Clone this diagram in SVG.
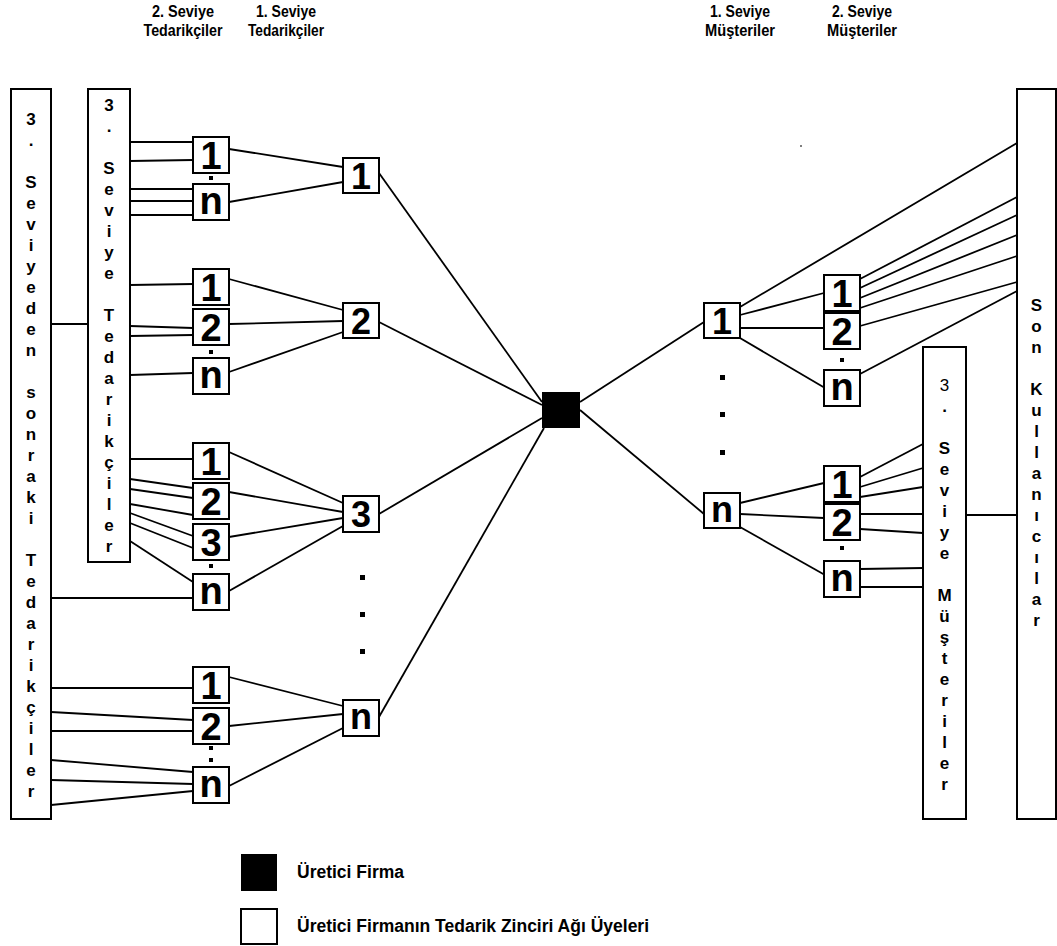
<svg xmlns="http://www.w3.org/2000/svg" width="1057" height="946" viewBox="0 0 1057 946">
<style>
.bx{fill:#fff;stroke:#000;stroke-width:2}
.dk{fill:#000}
.ln line{stroke:#000;stroke-width:1.8}
.hd{font-family:"Liberation Sans",Arial,sans-serif;font-weight:bold;font-size:16.5px;text-anchor:middle}
.vt{font-family:"Liberation Sans",Arial,sans-serif;font-weight:bold;font-size:17px;text-anchor:middle}
.d2{font-family:"Liberation Sans",Arial,sans-serif;font-weight:bold;font-size:38px;text-anchor:middle}
.d1{font-family:"Liberation Sans",Arial,sans-serif;font-weight:bold;font-size:36px;text-anchor:middle}
.lg{font-family:"Liberation Sans",Arial,sans-serif;font-weight:bold;font-size:17.5px}
</style>
<rect width="1057" height="946" fill="#fff"/>

<g id="headers">
<text class="hd" x="183" y="17" textLength="62" lengthAdjust="spacingAndGlyphs">2. Seviye</text>
<text class="hd" x="183" y="36" textLength="79" lengthAdjust="spacingAndGlyphs">Tedarikçiler</text>
<text class="hd" x="286" y="17" textLength="60" lengthAdjust="spacingAndGlyphs">1. Seviye</text>
<text class="hd" x="286" y="36" textLength="76" lengthAdjust="spacingAndGlyphs">Tedarikçiler</text>
<text class="hd" x="740" y="17" textLength="60" lengthAdjust="spacingAndGlyphs">1. Seviye</text>
<text class="hd" x="740" y="36" textLength="70" lengthAdjust="spacingAndGlyphs">Müşteriler</text>
<text class="hd" x="862" y="17" textLength="60" lengthAdjust="spacingAndGlyphs">2. Seviye</text>
<text class="hd" x="862" y="36" textLength="70" lengthAdjust="spacingAndGlyphs">Müşteriler</text>
</g>

<g id="connectors" class="ln">
<line x1="51" y1="324" x2="88" y2="324"/>
<line x1="130" y1="142" x2="193" y2="142"/>
<line x1="130" y1="161" x2="193" y2="160"/>
<line x1="130" y1="189" x2="193" y2="189"/>
<line x1="130" y1="201" x2="193" y2="201"/>
<line x1="130" y1="215" x2="193" y2="215"/>
<line x1="229" y1="149" x2="343" y2="167"/>
<line x1="229" y1="202" x2="343" y2="182"/>
<line x1="379" y1="173" x2="542" y2="402"/>
<line x1="130" y1="285" x2="193" y2="284"/>
<line x1="130" y1="326" x2="193" y2="328"/>
<line x1="130" y1="336" x2="193" y2="335"/>
<line x1="130" y1="375" x2="193" y2="373"/>
<line x1="229" y1="279" x2="343" y2="310"/>
<line x1="229" y1="324" x2="343" y2="321"/>
<line x1="229" y1="372" x2="343" y2="332"/>
<line x1="379" y1="322" x2="542" y2="405"/>
<line x1="130" y1="459" x2="193" y2="459"/>
<line x1="130" y1="479" x2="193" y2="488"/>
<line x1="130" y1="489" x2="193" y2="498"/>
<line x1="130" y1="504" x2="193" y2="515"/>
<line x1="130" y1="513" x2="193" y2="536"/>
<line x1="130" y1="523" x2="193" y2="548"/>
<line x1="130" y1="541" x2="193" y2="582"/>
<line x1="51" y1="598" x2="193" y2="598"/>
<line x1="229" y1="452" x2="343" y2="503"/>
<line x1="229" y1="492" x2="343" y2="512"/>
<line x1="229" y1="537" x2="343" y2="518"/>
<line x1="229" y1="591" x2="343" y2="526"/>
<line x1="379" y1="514" x2="542" y2="418"/>
<line x1="51" y1="688" x2="193" y2="688"/>
<line x1="51" y1="712" x2="193" y2="720"/>
<line x1="51" y1="731" x2="193" y2="731"/>
<line x1="51" y1="760" x2="193" y2="772"/>
<line x1="51" y1="780" x2="193" y2="784"/>
<line x1="51" y1="805" x2="193" y2="791"/>
<line x1="229" y1="677" x2="343" y2="706"/>
<line x1="229" y1="726" x2="343" y2="714"/>
<line x1="229" y1="786" x2="343" y2="728"/>
<line x1="379" y1="717" x2="544" y2="428"/>
<line x1="580" y1="402" x2="704" y2="322"/>
<line x1="580" y1="410" x2="704" y2="514"/>
<line x1="740" y1="307" x2="1017" y2="143"/>
<line x1="740" y1="315" x2="824" y2="293"/>
<line x1="740" y1="328" x2="824" y2="328"/>
<line x1="740" y1="338" x2="825" y2="388"/>
<line x1="860" y1="279" x2="1017" y2="197"/>
<line x1="860" y1="288" x2="1017" y2="215"/>
<line x1="860" y1="298" x2="1017" y2="235"/>
<line x1="860" y1="308" x2="1017" y2="256"/>
<line x1="860" y1="326" x2="1017" y2="282"/>
<line x1="860" y1="374" x2="1017" y2="291"/>
<line x1="740" y1="503" x2="824" y2="483"/>
<line x1="740" y1="514" x2="824" y2="518"/>
<line x1="740" y1="527" x2="825" y2="575"/>
<line x1="860" y1="477" x2="923" y2="444"/>
<line x1="860" y1="487" x2="923" y2="468"/>
<line x1="860" y1="497" x2="923" y2="487"/>
<line x1="860" y1="514" x2="923" y2="514"/>
<line x1="860" y1="529" x2="923" y2="533"/>
<line x1="860" y1="569" x2="923" y2="568"/>
<line x1="860" y1="587" x2="923" y2="587"/>
<line x1="966" y1="515" x2="1017" y2="515"/>
</g>

<g id="outer-suppliers">
<rect class="bx" x="11" y="89" width="40" height="730"/>
<text class="vt"><tspan x="31" y="125">3</tspan><tspan x="31" y="146">.</tspan><tspan x="31" y="188">S</tspan><tspan x="31" y="209">e</tspan><tspan x="31" y="230">v</tspan><tspan x="31" y="251">i</tspan><tspan x="31" y="272">y</tspan><tspan x="31" y="293">e</tspan><tspan x="31" y="314">d</tspan><tspan x="31" y="335">e</tspan><tspan x="31" y="356">n</tspan><tspan x="31" y="398">s</tspan><tspan x="31" y="419">o</tspan><tspan x="31" y="440">n</tspan><tspan x="31" y="461">r</tspan><tspan x="31" y="482">a</tspan><tspan x="31" y="503">k</tspan><tspan x="31" y="524">i</tspan><tspan x="31" y="566">T</tspan><tspan x="31" y="587">e</tspan><tspan x="31" y="608">d</tspan><tspan x="31" y="629">a</tspan><tspan x="31" y="650">r</tspan><tspan x="31" y="671">i</tspan><tspan x="31" y="692">k</tspan><tspan x="31" y="713">ç</tspan><tspan x="31" y="734">i</tspan><tspan x="31" y="755">l</tspan><tspan x="31" y="776">e</tspan><tspan x="31" y="797">r</tspan></text>
</g>

<g id="tier3-suppliers">
<rect class="bx" x="88" y="89" width="42" height="473"/>
<text class="vt"><tspan x="109" y="111">3</tspan><tspan x="109" y="132">.</tspan><tspan x="109" y="174">S</tspan><tspan x="109" y="195">e</tspan><tspan x="109" y="216">v</tspan><tspan x="109" y="237">i</tspan><tspan x="109" y="258">y</tspan><tspan x="109" y="279">e</tspan><tspan x="109" y="321">T</tspan><tspan x="109" y="342">e</tspan><tspan x="109" y="363">d</tspan><tspan x="109" y="384">a</tspan><tspan x="109" y="405">r</tspan><tspan x="109" y="426">i</tspan><tspan x="109" y="447">k</tspan><tspan x="109" y="468">ç</tspan><tspan x="109" y="489">i</tspan><tspan x="109" y="510">l</tspan><tspan x="109" y="531">e</tspan><tspan x="109" y="552">r</tspan></text>
</g>

<g id="s2-g1">
<rect class="bx" x="193" y="137" width="36" height="36"/><text class="d2" x="211" y="169">1</text>
<rect class="dk" x="209" y="176" width="4" height="4"/>
<rect class="bx" x="193" y="184" width="36" height="36"/><text class="d2" x="211" y="214">n</text>
</g>
<g id="s2-g2">
<rect class="bx" x="193" y="269" width="36" height="36"/><text class="d2" x="211" y="301">1</text>
<rect class="bx" x="193" y="309" width="36" height="36"/><text class="d2" x="211" y="341">2</text>
<rect class="dk" x="209" y="350" width="4" height="4"/>
<rect class="bx" x="193" y="358" width="36" height="36"/><text class="d2" x="211" y="388">n</text>
</g>
<g id="s2-g3">
<rect class="bx" x="193" y="443" width="36" height="36"/><text class="d2" x="211" y="475">1</text>
<rect class="bx" x="193" y="483" width="36" height="36"/><text class="d2" x="211" y="515">2</text>
<rect class="bx" x="193" y="524" width="36" height="36"/><text class="d2" x="211" y="556">3</text>
<rect class="dk" x="209" y="564" width="4" height="4"/>
<rect class="bx" x="193" y="574" width="36" height="36"/><text class="d2" x="211" y="604">n</text>
</g>
<g id="s2-g4">
<rect class="bx" x="193" y="667" width="36" height="36"/><text class="d2" x="211" y="699">1</text>
<rect class="bx" x="193" y="708" width="36" height="36"/><text class="d2" x="211" y="740">2</text>
<rect class="dk" x="209" y="746" width="4" height="4"/>
<rect class="dk" x="209" y="758" width="4" height="4"/>
<rect class="bx" x="193" y="767" width="36" height="36"/><text class="d2" x="211" y="797">n</text>
</g>

<g id="s1-1"><rect class="bx" x="343" y="158" width="36" height="35"/><text class="d1" x="361" y="189">1</text></g>
<g id="s1-2"><rect class="bx" x="343" y="303" width="36" height="35"/><text class="d1" x="361" y="334">2</text></g>
<g id="s1-3"><rect class="bx" x="343" y="496" width="36" height="36"/><text class="d1" x="361" y="527">3</text></g>
<g id="s1-dots">
<rect class="dk" x="360" y="575" width="5" height="5"/>
<rect class="dk" x="360" y="612" width="5" height="5"/>
<rect class="dk" x="360" y="649" width="5" height="5"/>
</g>
<g id="s1-n"><rect class="bx" x="343" y="700" width="36" height="36"/><text class="d1" x="361" y="729">n</text></g>

<g id="manufacturer"><rect class="dk" x="542" y="392" width="38" height="36"/></g>

<g id="c1-1"><rect class="bx" x="704" y="303" width="36" height="35"/><text class="d1" x="722" y="334">1</text></g>
<g id="c1-dots">
<rect class="dk" x="720" y="375" width="5" height="5"/>
<rect class="dk" x="720" y="412" width="5" height="5"/>
<rect class="dk" x="720" y="450" width="5" height="5"/>
</g>
<g id="c1-n"><rect class="bx" x="704" y="493" width="36" height="35"/><text class="d1" x="722" y="522">n</text></g>

<g id="c2-top">
<rect class="bx" x="824" y="275" width="36" height="36"/><text class="d2" x="842" y="307">1</text>
<rect class="bx" x="824" y="313" width="36" height="36"/><text class="d2" x="842" y="345">2</text>
<rect class="dk" x="840" y="358" width="4" height="4"/>
<rect class="bx" x="824" y="370" width="36" height="36"/><text class="d2" x="842" y="400">n</text>
</g>
<g id="c2-bottom">
<rect class="bx" x="824" y="466" width="36" height="36"/><text class="d2" x="842" y="498">1</text>
<rect class="bx" x="824" y="504" width="36" height="36"/><text class="d2" x="842" y="536">2</text>
<rect class="dk" x="840" y="546" width="4" height="4"/>
<rect class="bx" x="824" y="561" width="36" height="36"/><text class="d2" x="842" y="591">n</text>
</g>

<g id="tier3-customers">
<rect class="bx" x="923" y="347" width="43" height="472"/>
<text class="vt"><tspan x="944.5" y="391" font-weight="normal">3</tspan><tspan x="944.5" y="412">.</tspan><tspan x="944.5" y="454">S</tspan><tspan x="944.5" y="475">e</tspan><tspan x="944.5" y="496">v</tspan><tspan x="944.5" y="517">i</tspan><tspan x="944.5" y="538">y</tspan><tspan x="944.5" y="559">e</tspan><tspan x="944.5" y="601">M</tspan><tspan x="944.5" y="622">ü</tspan><tspan x="944.5" y="643">ş</tspan><tspan x="944.5" y="664">t</tspan><tspan x="944.5" y="685">e</tspan><tspan x="944.5" y="706">r</tspan><tspan x="944.5" y="727">i</tspan><tspan x="944.5" y="748">l</tspan><tspan x="944.5" y="769">e</tspan><tspan x="944.5" y="790">r</tspan></text>
</g>

<g id="end-users">
<rect class="bx" x="1017" y="89" width="39" height="730"/>
<text class="vt"><tspan x="1036.5" y="311">S</tspan><tspan x="1036.5" y="332">o</tspan><tspan x="1036.5" y="353">n</tspan><tspan x="1036.5" y="395">K</tspan><tspan x="1036.5" y="416">u</tspan><tspan x="1036.5" y="437">l</tspan><tspan x="1036.5" y="458">l</tspan><tspan x="1036.5" y="479">a</tspan><tspan x="1036.5" y="500">n</tspan><tspan x="1036.5" y="521">ı</tspan><tspan x="1036.5" y="542">c</tspan><tspan x="1036.5" y="563">ı</tspan><tspan x="1036.5" y="584">l</tspan><tspan x="1036.5" y="605">a</tspan><tspan x="1036.5" y="626">r</tspan></text>
</g>

<circle cx="801" cy="146" r="1" fill="#555"/>

<g id="legend">
<rect class="dk" x="241" y="854" width="36" height="37"/>
<text class="lg" x="297" y="878">Üretici Firma</text>
<rect class="bx" x="241" y="909" width="36" height="35"/>
<text class="lg" x="297" y="932">Üretici Firmanın Tedarik Zinciri Ağı Üyeleri</text>
</g>
</svg>
